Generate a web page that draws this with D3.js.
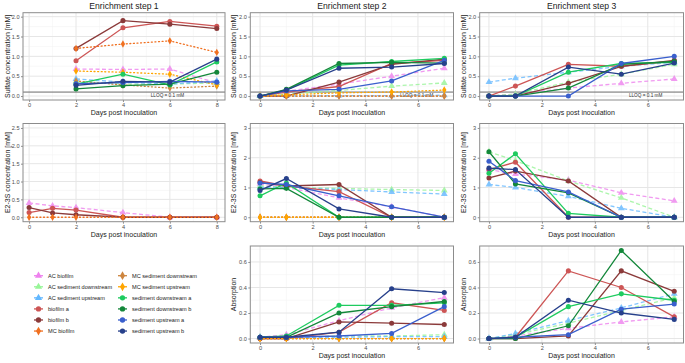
<!DOCTYPE html>
<html>
<head>
<meta charset="utf-8">
<script src="https://cdn.jsdelivr.net/npm/d3@7"></script>
<style>
body { margin: 0; background: #fff; }
text { font-family: "Liberation Sans", Arial, sans-serif; }
</style>
</head>
<body>
<script>
var W = 685, H = 363;

// series (legend order)
var seriesNames = ["AC biofilm", "AC sediment downstream", "AC sediment upstream", "biofilm a", "biofilm b", "MC biofilm",
    "MC sediment downstream", "MC sediment upstream", "sediment downstream a", "sediment downstream b", "sediment upstream a", "sediment upstream b"];
var seriesColors = ["#EE82EE", "#98F598", "#63B8FF", "#CD5555", "#8B3A3A", "#F07020",
    "#CD853F", "#FFA500", "#1ECB5F", "#13873A", "#3A5FCD", "#27408B"];

// x values (days post inoculation)
var daysStep1 = [2, 4, 6, 8];
var daysStep1E2 = [0, 1, 2, 4, 6, 8];
var daysStep23 = [0, 1, 3, 5, 7];

// Sulfate concentration [mM]
var sulfateStep1 = {
    "AC biofilm": [0.68, 0.67, 0.68, 0.33],
    "AC sediment downstream": [0.37, 0.30, 0.30, 0.33],
    "AC sediment upstream": [0.43, 0.35, 0.30, 0.38],
    "biofilm a": [0.89, 1.72, 1.88, 1.76],
    "biofilm b": [1.20, 1.90, 1.81, 1.70],
    "MC biofilm": [1.20, 1.31, 1.39, 1.10],
    "MC sediment downstream": [0.38, 0.28, 0.20, 0.25],
    "MC sediment upstream": [0.63, 0.60, 0.55, 0.28],
    "sediment downstream a": [0.30, 0.55, 0.28, 0.86],
    "sediment downstream b": [0.18, 0.26, 0.30, 0.60],
    "sediment upstream a": [0.31, 0.34, 0.37, 0.35],
    "sediment upstream b": [0.27, 0.37, 0.35, 0.93]
};
var sulfateStep2 = {
    "AC biofilm": [0, 0.12, 0.30, 0.50, 0.70],
    "AC sediment downstream": [0, 0.05, 0.14, 0.25, 0.33],
    "AC sediment upstream": [0, 0, 0.01, 0.01, 0.02],
    "biofilm a": [0, 0.10, 0.24, 0.82, 0.90],
    "biofilm b": [0, 0, 0.35, 0.80, 0.93],
    "MC biofilm": [0, 0, 0, 0, 0],
    "MC sediment downstream": [0, 0, 0, 0, 0],
    "MC sediment upstream": [0, 0.03, 0.08, 0.10, 0.15],
    "sediment downstream a": [0, 0.15, 0.78, 0.87, 0.95],
    "sediment downstream b": [0, 0.17, 0.82, 0.85, 0.83],
    "sediment upstream a": [0, 0.13, 0.17, 0.38, 0.90],
    "sediment upstream b": [0, 0.15, 0.70, 0.73, 0.82]
};
var sulfateStep3 = {
    "AC biofilm": [0, 0.05, 0.20, 0.32, 0.43],
    "AC sediment downstream": [0, 0.05, 0.35, 0.55, 0.80],
    "AC sediment upstream": [0.35, 0.45, 0.60, 0.75, 0.85],
    "biofilm a": [0, 0.25, 0.80, 0.75, 0.88],
    "biofilm b": [0, 0, 0.32, 0.75, 0.90],
    "sediment downstream a": [0, 0, 0.60, 0.82, 0.85],
    "sediment downstream b": [0, 0, 0.20, 0.80, 0.87],
    "sediment upstream a": [0, 0, 0, 0.82, 1.00],
    "sediment upstream b": [0, 0, 0.73, 0.55, 0.83]
};

// E2-3S concentration [mM]
var e2Step1 = {
    "AC biofilm": [0.40, 0.32, 0.27, 0.13, 0, 0],
    "biofilm a": [0.13, 0.25, 0.20, 0, 0, 0],
    "biofilm b": [0.27, 0.12, 0.07, 0, 0, 0],
    "MC biofilm": [0, 0, 0, 0, 0, 0]
};
var e2Step2 = {
    "AC biofilm": [1.12, 1.00, 0.65, 0.35, 0],
    "AC sediment downstream": [1.05, 1.00, 0.97, 0.93, 0.90],
    "AC sediment upstream": [1.00, 1.00, 0.93, 0.85, 0.78],
    "biofilm a": [1.22, 1.05, 0.86, 0, 0],
    "biofilm b": [1.17, 1.05, 1.10, 0, 0],
    "MC biofilm": [0, 0, 0, 0, 0],
    "MC sediment downstream": [0, 0, 0, 0, 0],
    "MC sediment upstream": [0, 0, 0, 0, 0],
    "sediment downstream a": [0.72, 1.15, 0, 0, 0],
    "sediment downstream b": [0.95, 0.97, 0, 0, 0],
    "sediment upstream a": [1.15, 1.10, 0.72, 0.35, 0],
    "sediment upstream b": [0.90, 1.30, 0.28, 0, 0]
};
var e2Step3 = {
    "AC biofilm": [1.60, 1.45, 1.25, 0.82, 0.55],
    "AC sediment downstream": [2.20, 1.90, 1.22, 0.65, 0],
    "AC sediment upstream": [1.10, 1.00, 0.70, 0.30, 0],
    "biofilm a": [1.60, 1.85, 0, 0, 0],
    "biofilm b": [1.32, 1.55, 1.22, 0, 0],
    "sediment downstream a": [1.48, 2.13, 0.13, 0, 0],
    "sediment downstream b": [2.20, 1.12, 0.82, 0, 0],
    "sediment upstream a": [1.88, 1.23, 0.85, 0, 0],
    "sediment upstream b": [1.65, 1.60, 0, 0, 0]
};

// Absorption
var absStep2 = {
    "AC biofilm": [0.01, 0.03, 0.14, 0.24, 0.32],
    "AC sediment downstream": [0.01, 0.01, 0.02, 0.02, 0.03],
    "AC sediment upstream": [0.01, 0.01, 0.01, 0.015, 0.015],
    "biofilm a": [0, 0, 0.05, 0.28, 0.22],
    "biofilm b": [0, 0, 0.13, 0.12, 0.11],
    "MC biofilm": [0, 0, 0, 0, 0],
    "MC sediment downstream": [0, 0, 0, 0, 0],
    "MC sediment upstream": [0, 0, 0, 0, 0],
    "sediment downstream a": [0.01, 0.02, 0.26, 0.26, 0.28],
    "sediment downstream b": [0.01, 0.01, 0.20, 0.25, 0.29],
    "sediment upstream a": [0.01, 0.01, 0.02, 0.04, 0.25],
    "sediment upstream b": [0.01, 0.01, 0.05, 0.39, 0.36]
};
var absStep3 = {
    "AC biofilm": [0, 0.02, 0.08, 0.13, 0.17],
    "AC sediment downstream": [0, 0.03, 0.12, 0.22, 0.32],
    "AC sediment upstream": [0, 0.04, 0.14, 0.24, 0.35],
    "biofilm a": [0, 0.01, 0.53, 0.40, 0.17],
    "biofilm b": [0, 0, 0.02, 0.53, 0.37],
    "sediment downstream a": [0, 0.01, 0.25, 0.35, 0.30],
    "sediment downstream b": [0, 0, 0.10, 0.69, 0.29],
    "sediment upstream a": [0, 0.01, 0.03, 0.23, 0.27],
    "sediment upstream b": [0, 0.01, 0.30, 0.20, 0.15]
};

var stepTitles = ["Enrichment step 1", "Enrichment step 2", "Enrichment step 3"];
var xTicksStep1 = [0, 2, 4, 6, 8];
var xTicksStep23 = [0, 2, 4, 6];
var yTicksSulfate = [0, 0.5, 1, 1.5, 2];
var yTicksE2Step1 = [0, 0.5, 1, 1.5, 2, 2.5];
var yTicksE2 = [0, 1, 2, 3];
var yTicksAbs = [0, 0.2, 0.4, 0.6];
var lloq = 0.1;

// layout
var cols = [
    {l: 23, r: 225, dom: [-0.26, 8.35], ticks: xTicksStep1, minor: [1, 3, 5, 7], tx: 10, lloqX: 5.9},
    {l: 250.3, r: 453.5, dom: [-0.37, 7.35], ticks: xTicksStep23, minor: [1, 3, 5, 7], tx: 236, lloqX: 5.95},
    {l: 479.7, r: 683.5, dom: [-0.35, 7.35], ticks: xTicksStep23, minor: [1, 3, 5, 7], tx: 466, lloqX: 5.92}
];
var rows = [{t: 12.7, b: 100}, {t: 123.5, b: 221.7}, {t: 246, b: 343}];

var panels = [
    {c: 0, r: 0, x: daysStep1, data: sulfateStep1, dom: [-0.1, 2.1], ticks: yTicksSulfate, minor: [0.25, 0.75, 1.25, 1.75], fmt: ".1f", title: "Sulfate concentration [mM]", lloq: true},
    {c: 1, r: 0, x: daysStep23, data: sulfateStep2, dom: [-0.1, 2.1], ticks: yTicksSulfate, minor: [0.25, 0.75, 1.25, 1.75], fmt: ".1f", title: "Sulfate concentration [mM]", lloq: true},
    {c: 2, r: 0, x: daysStep23, data: sulfateStep3, dom: [-0.1, 2.1], ticks: yTicksSulfate, minor: [0.25, 0.75, 1.25, 1.75], fmt: ".1f", title: "Sulfate concentration [mM]", lloq: true},
    {c: 0, r: 1, x: daysStep1E2, data: e2Step1, dom: [-0.125, 2.625], ticks: yTicksE2Step1, minor: [0.25, 0.75, 1.25, 1.75, 2.25], fmt: ".1f", title: "E2-3S concentration [mM]"},
    {c: 1, r: 1, x: daysStep23, data: e2Step2, dom: [-0.15, 3.15], ticks: yTicksE2, minor: [0.5, 1.5, 2.5], fmt: "d", title: "E2-3S concentration [mM]"},
    {c: 2, r: 1, x: daysStep23, data: e2Step3, dom: [-0.15, 3.15], ticks: yTicksE2, minor: [0.5, 1.5, 2.5], fmt: "d", title: "E2-3S concentration [mM]"},
    {c: 1, r: 2, x: daysStep23, data: absStep2, dom: [-0.035, 0.725], ticks: yTicksAbs, minor: [0.1, 0.3, 0.5, 0.7], fmt: ".1f", title: "Absorption"},
    {c: 2, r: 2, x: daysStep23, data: absStep3, dom: [-0.035, 0.725], ticks: yTicksAbs, minor: [0.1, 0.3, 0.5, 0.7], fmt: ".1f", title: "Absorption"}
];

var svg = d3.select("body").append("svg")
    .attr("width", W)
    .attr("height", H);

function dashFor(name) {
    if (name.indexOf("AC") === 0) return "4,2.5";
    if (name.indexOf("MC") === 0) return "1,2.6";
    return null;
}
function symbolFor(name) {
    if (name.indexOf("AC") === 0) return d3.symbolTriangle;
    if (name.indexOf("MC") === 0) return d3.symbolDiamond;
    return d3.symbolCircle;
}
function colorFor(name) {
    return seriesColors[seriesNames.indexOf(name)];
}

// column titles
stepTitles.forEach(function (t, i) {
    svg.append("text")
        .attr("x", (cols[i].l + cols[i].r) / 2)
        .attr("y", 8.5)
        .attr("text-anchor", "middle")
        .attr("font-size", 8.6)
        .attr("fill", "#1a1a1a")
        .text(t);
});

panels.forEach(function (p) {
    var col = cols[p.c], row = rows[p.r];
    var x = d3.scaleLinear().domain(col.dom).range([col.l, col.r]);
    var y = d3.scaleLinear().domain(p.dom).range([row.b, row.t]);
    var g = svg.append("g");

    // grid
    g.selectAll(".xminor").data(col.minor).enter().append("line")
        .attr("x1", x).attr("x2", x).attr("y1", row.t).attr("y2", row.b)
        .attr("stroke", "#f4f4f4").attr("stroke-width", 0.6);
    g.selectAll(".yminor").data(p.minor).enter().append("line")
        .attr("y1", y).attr("y2", y).attr("x1", col.l).attr("x2", col.r)
        .attr("stroke", "#f4f4f4").attr("stroke-width", 0.6);
    g.selectAll(".xmajor").data(col.ticks).enter().append("line")
        .attr("x1", x).attr("x2", x).attr("y1", row.t).attr("y2", row.b)
        .attr("stroke", "#e6e6e6").attr("stroke-width", 1);
    g.selectAll(".ymajor").data(p.ticks).enter().append("line")
        .attr("y1", y).attr("y2", y).attr("x1", col.l).attr("x2", col.r)
        .attr("stroke", "#e6e6e6").attr("stroke-width", 1);

    // axes
    var xAxis = d3.axisBottom(x).tickValues(col.ticks).tickFormat(d3.format("d")).tickSize(2).tickPadding(1.5);
    var yAxis = d3.axisLeft(y).tickValues(p.ticks).tickFormat(d3.format(p.fmt)).tickSize(2).tickPadding(1.5);
    var gx = g.append("g").attr("transform", "translate(0," + row.b + ")").call(xAxis);
    var gy = g.append("g").attr("transform", "translate(" + col.l + ",0)").call(yAxis);
    [gx, gy].forEach(function (a) {
        a.select(".domain").remove();
        a.selectAll("line").attr("stroke", "#444").attr("stroke-width", 0.6);
        a.selectAll("text").attr("fill", "#4d4d4d").attr("font-size", 5.6)
            .attr("font-family", "'Liberation Sans', Arial, sans-serif");
    });

    // axis titles
    g.append("text")
        .attr("x", (col.l + col.r) / 2)
        .attr("y", row.b + 15.3)
        .attr("text-anchor", "middle")
        .attr("font-size", 7)
        .attr("fill", "#1a1a1a")
        .text("Days post inoculation");
    g.append("text")
        .attr("transform", "translate(" + col.tx + "," + ((row.t + row.b) / 2) + ") rotate(-90)")
        .attr("text-anchor", "middle")
        .attr("font-size", 7)
        .attr("fill", "#1a1a1a")
        .text(p.title);

    // LLOQ reference line
    if (p.lloq) {
        g.append("line")
            .attr("x1", col.l).attr("x2", col.r)
            .attr("y1", y(lloq)).attr("y2", y(lloq))
            .attr("stroke", "#6a6a6a").attr("stroke-width", 1);
        g.append("text")
            .attr("x", x(col.lloqX))
            .attr("y", y(lloq) + 4.8)
            .attr("text-anchor", "middle")
            .attr("font-size", 4.7)
            .attr("fill", "#333")
            .text("LLOQ = 0.1  mM");
    }

    // series lines and points
    var line = d3.line()
        .x(function (d) { return x(d[0]); })
        .y(function (d) { return y(d[1]); });
    seriesNames.forEach(function (name) {
        var vals = p.data[name];
        if (!vals) return;
        var pts = p.x.map(function (d, i) { return [d, vals[i]]; });
        var isAC = name.indexOf("AC") === 0;
        var sg = g.append("g").attr("opacity", isAC ? 0.8 : 1);
        sg.append("path")
            .datum(pts)
            .attr("d", line)
            .attr("fill", "none")
            .attr("stroke", colorFor(name))
            .attr("stroke-width", 1.3)
            .attr("stroke-linecap", name.indexOf("MC") === 0 ? "round" : "butt")
            .attr("stroke-dasharray", dashFor(name));
        sg.selectAll("path.pt")
            .data(pts)
            .enter()
            .append("path")
            .attr("class", "pt")
            .attr("transform", function (d) { return "translate(" + x(d[0]) + "," + y(d[1]) + ")"; })
            .attr("d", d3.symbol().type(symbolFor(name)).size(name.indexOf("MC") === 0 ? 16 : 20))
            .attr("fill", colorFor(name));
    });

    // panel border
    g.append("rect")
        .attr("x", col.l).attr("y", row.t)
        .attr("width", col.r - col.l).attr("height", row.b - row.t)
        .attr("fill", "none")
        .attr("stroke", "#8c8c8c")
        .attr("stroke-width", 1);
});

// legend
var legend = svg.append("g");
seriesNames.forEach(function (name, i) {
    var lx = i < 6 ? 34 : 118;
    var ly = 275.7 + (i % 6) * 11.07;
    var kg = legend.append("g").attr("transform", "translate(" + lx + "," + ly + ")");
    kg.append("line")
        .attr("x1", 0).attr("x2", 9).attr("y1", 0).attr("y2", 0)
        .attr("stroke", colorFor(name)).attr("stroke-width", 1.3);
    kg.append("path")
        .attr("transform", "translate(4.5,0)")
        .attr("d", d3.symbol().type(symbolFor(name)).size(22))
        .attr("fill", colorFor(name));
    kg.append("text")
        .attr("x", 14)
        .attr("y", 2)
        .attr("font-size", 5.6)
        .attr("fill", "#1a1a1a")
        .text(name);
});
</script>
</body>
</html>
